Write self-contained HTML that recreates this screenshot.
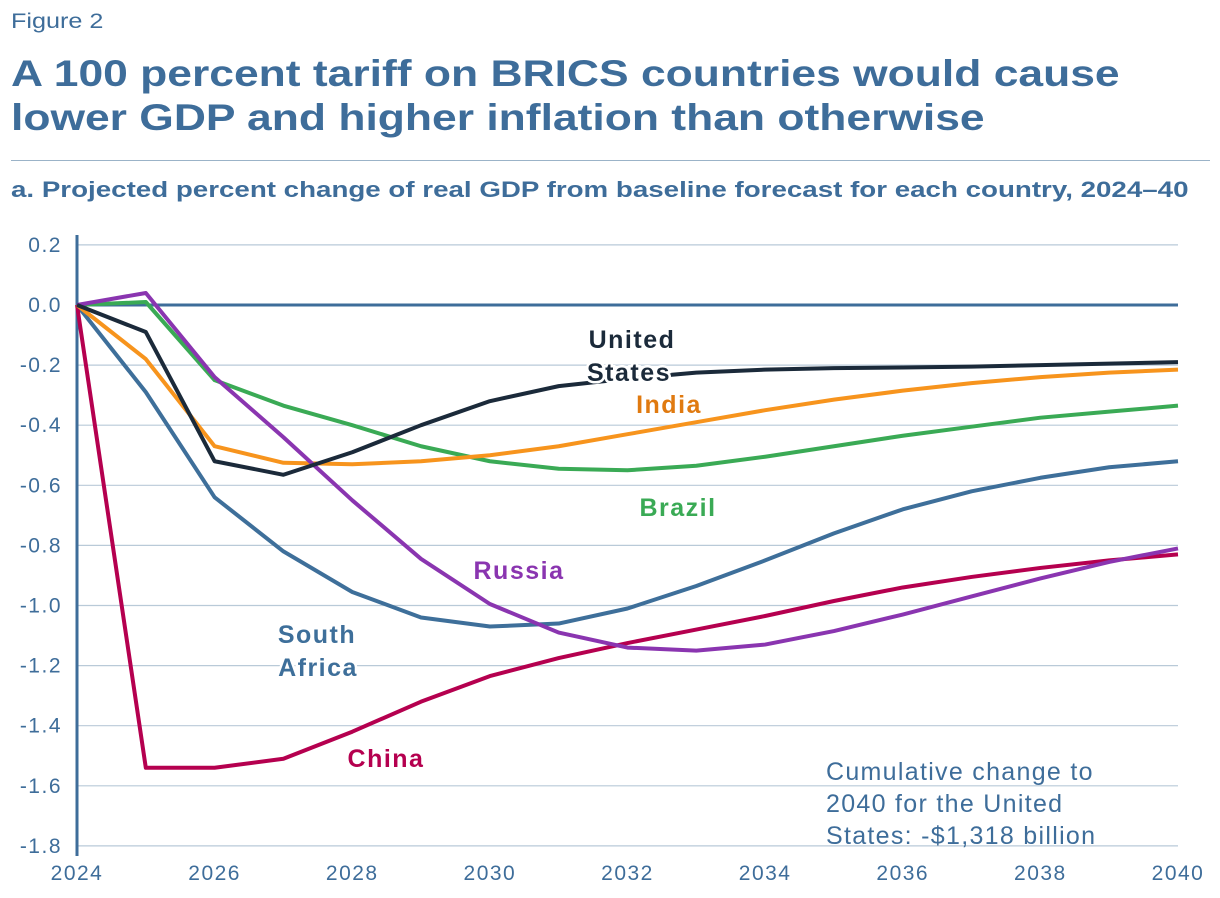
<!DOCTYPE html>
<html><head><meta charset="utf-8"><style>
body{margin:0;background:#fff;width:1220px;height:898px;overflow:hidden;font-family:"Liberation Sans",sans-serif;}
.fig{position:absolute;left:11px;top:10px;font-size:21px;color:#3e6d9a;transform:scaleX(1.2);transform-origin:left;}
.title{position:absolute;left:11px;top:52px;font-size:37px;font-weight:bold;color:#3e6d9a;line-height:44px;transform:scaleX(1.2);transform-origin:left;white-space:nowrap;}
.rule{position:absolute;left:11px;top:160px;width:1199px;height:1px;background:#9bb3c8;}
.sub{position:absolute;left:11px;top:177px;font-size:22px;font-weight:bold;color:#3e6d9a;transform:scaleX(1.26);transform-origin:left;white-space:nowrap;}
svg{position:absolute;left:0;top:0;}
</style></head><body>
<div class="fig">Figure 2</div>
<div class="title">A 100 percent tariff on BRICS countries would cause<br>lower GDP and higher inflation than otherwise</div>
<div class="rule"></div>
<div class="sub">a. Projected percent change of real GDP from baseline forecast for each country, 2024–40</div>
<svg id="chart" width="1220" height="898"></svg>
<script>
const years=[2024,2025,2026,2027,2028,2029,2030,2031,2032,2033,2034,2035,2036,2037,2038,2039,2040];
const yTicks=[0.2,0,-0.2,-0.4,-0.6,-0.8,-1.0,-1.2,-1.4,-1.6,-1.8];
const xTicks=[2024,2026,2028,2030,2032,2034,2036,2038,2040];
const usVals=[0,-0.09,-0.52,-0.565,-0.49,-0.4,-0.32,-0.27,-0.245,-0.225,-0.215,-0.21,-0.208,-0.205,-0.2,-0.195,-0.19];
const indiaVals=[0,-0.18,-0.47,-0.525,-0.53,-0.52,-0.5,-0.47,-0.43,-0.39,-0.35,-0.315,-0.285,-0.26,-0.24,-0.225,-0.215];
const brazilVals=[0,0.01,-0.25,-0.335,-0.4,-0.47,-0.52,-0.545,-0.55,-0.535,-0.505,-0.47,-0.435,-0.405,-0.375,-0.355,-0.335];
const saVals=[0,-0.29,-0.64,-0.82,-0.955,-1.04,-1.07,-1.06,-1.01,-0.935,-0.85,-0.76,-0.68,-0.62,-0.575,-0.54,-0.52];
const russiaVals=[0,0.04,-0.24,-0.44,-0.65,-0.845,-0.995,-1.09,-1.14,-1.15,-1.13,-1.085,-1.03,-0.97,-0.91,-0.855,-0.81];
const chinaVals=[0,-1.54,-1.54,-1.51,-1.42,-1.32,-1.235,-1.175,-1.125,-1.08,-1.035,-0.985,-0.94,-0.905,-0.875,-0.85,-0.83];

const svg=document.getElementById('chart');
const NS='http://www.w3.org/2000/svg';
const x=v=>77+(v-2024)*(1178-77)/16;
const y=v=>305-v*300.5;
function mk(tag,attrs){const e=document.createElementNS(NS,tag);for(const k in attrs)e.setAttribute(k,attrs[k]);svg.appendChild(e);return e;}
yTicks.forEach(t=>{
  const l=mk('line',{x1:77,x2:1178,y1:y(t),y2:y(t),stroke:t===0?'#3e6d9a':'#b9cad8','stroke-width':t===0?3:1.2});
  
  
  const tx=mk('text',{x:62,y:y(t)+7,'text-anchor':'end','font-size':21,fill:'#3e6d9a','font-family':'Liberation Sans','letter-spacing':1.5});
  tx.textContent=(t<0?'-':'')+Math.abs(t).toFixed(1);
  
  
});
xTicks.forEach(t=>{
  const tx=mk('text',{x:x(t),y:880,'text-anchor':'middle','font-size':21,fill:'#3e6d9a','font-family':'Liberation Sans','letter-spacing':1.5});
  tx.textContent=t;
  
  
});
const ax=mk('line',{x1:77,x2:77,y1:235,y2:856,stroke:'#3e6d9a','stroke-width':3});


const series=[['south-africa',saVals,'#3e6f9a'],['china',chinaVals,'#b5004f'],['brazil',brazilVals,'#3aaa55'],['india',indiaVals,'#f7941d'],['russia',russiaVals,'#8a35b0'],['united-states',usVals,'#1b2a3a']];
series.forEach(([n,vals,c])=>{
  const p=mk('polyline',{points:vals.map((v,i)=>x(years[i])+','+y(v)).join(' '),fill:'none',stroke:c,'stroke-width':4,'stroke-linejoin':'round'});
  
  
});
const labels=[['United',632,348,'#1b2a3a'],['States',629,381,'#1b2a3a'],['India',669,413,'#e07a10'],['Brazil',678,516,'#3aaa55'],['Russia',519,579,'#8a35b0'],['South',317,643,'#3e6f9a'],['Africa',318,676,'#3e6f9a'],['China',386,767,'#b5004f']];
labels.forEach(([t,lx,ly,c])=>{
  const tx=mk('text',{x:lx,y:ly,'text-anchor':'middle','font-size':25,'font-weight':'bold',fill:c,stroke:'#fff','stroke-width':5,'paint-order':'stroke','font-family':'Liberation Sans','letter-spacing':1.5});
  tx.textContent=t;
  
  
});
['Cumulative change to','2040 for the United','States: -$1,318 billion'].forEach((t,i)=>{
  const tx=mk('text',{x:826,y:780+i*32,'font-size':25,fill:'#3e6d9a','font-family':'Liberation Sans','letter-spacing':1.3});
  tx.textContent=t;
  
  
});
</script>
</body></html>
